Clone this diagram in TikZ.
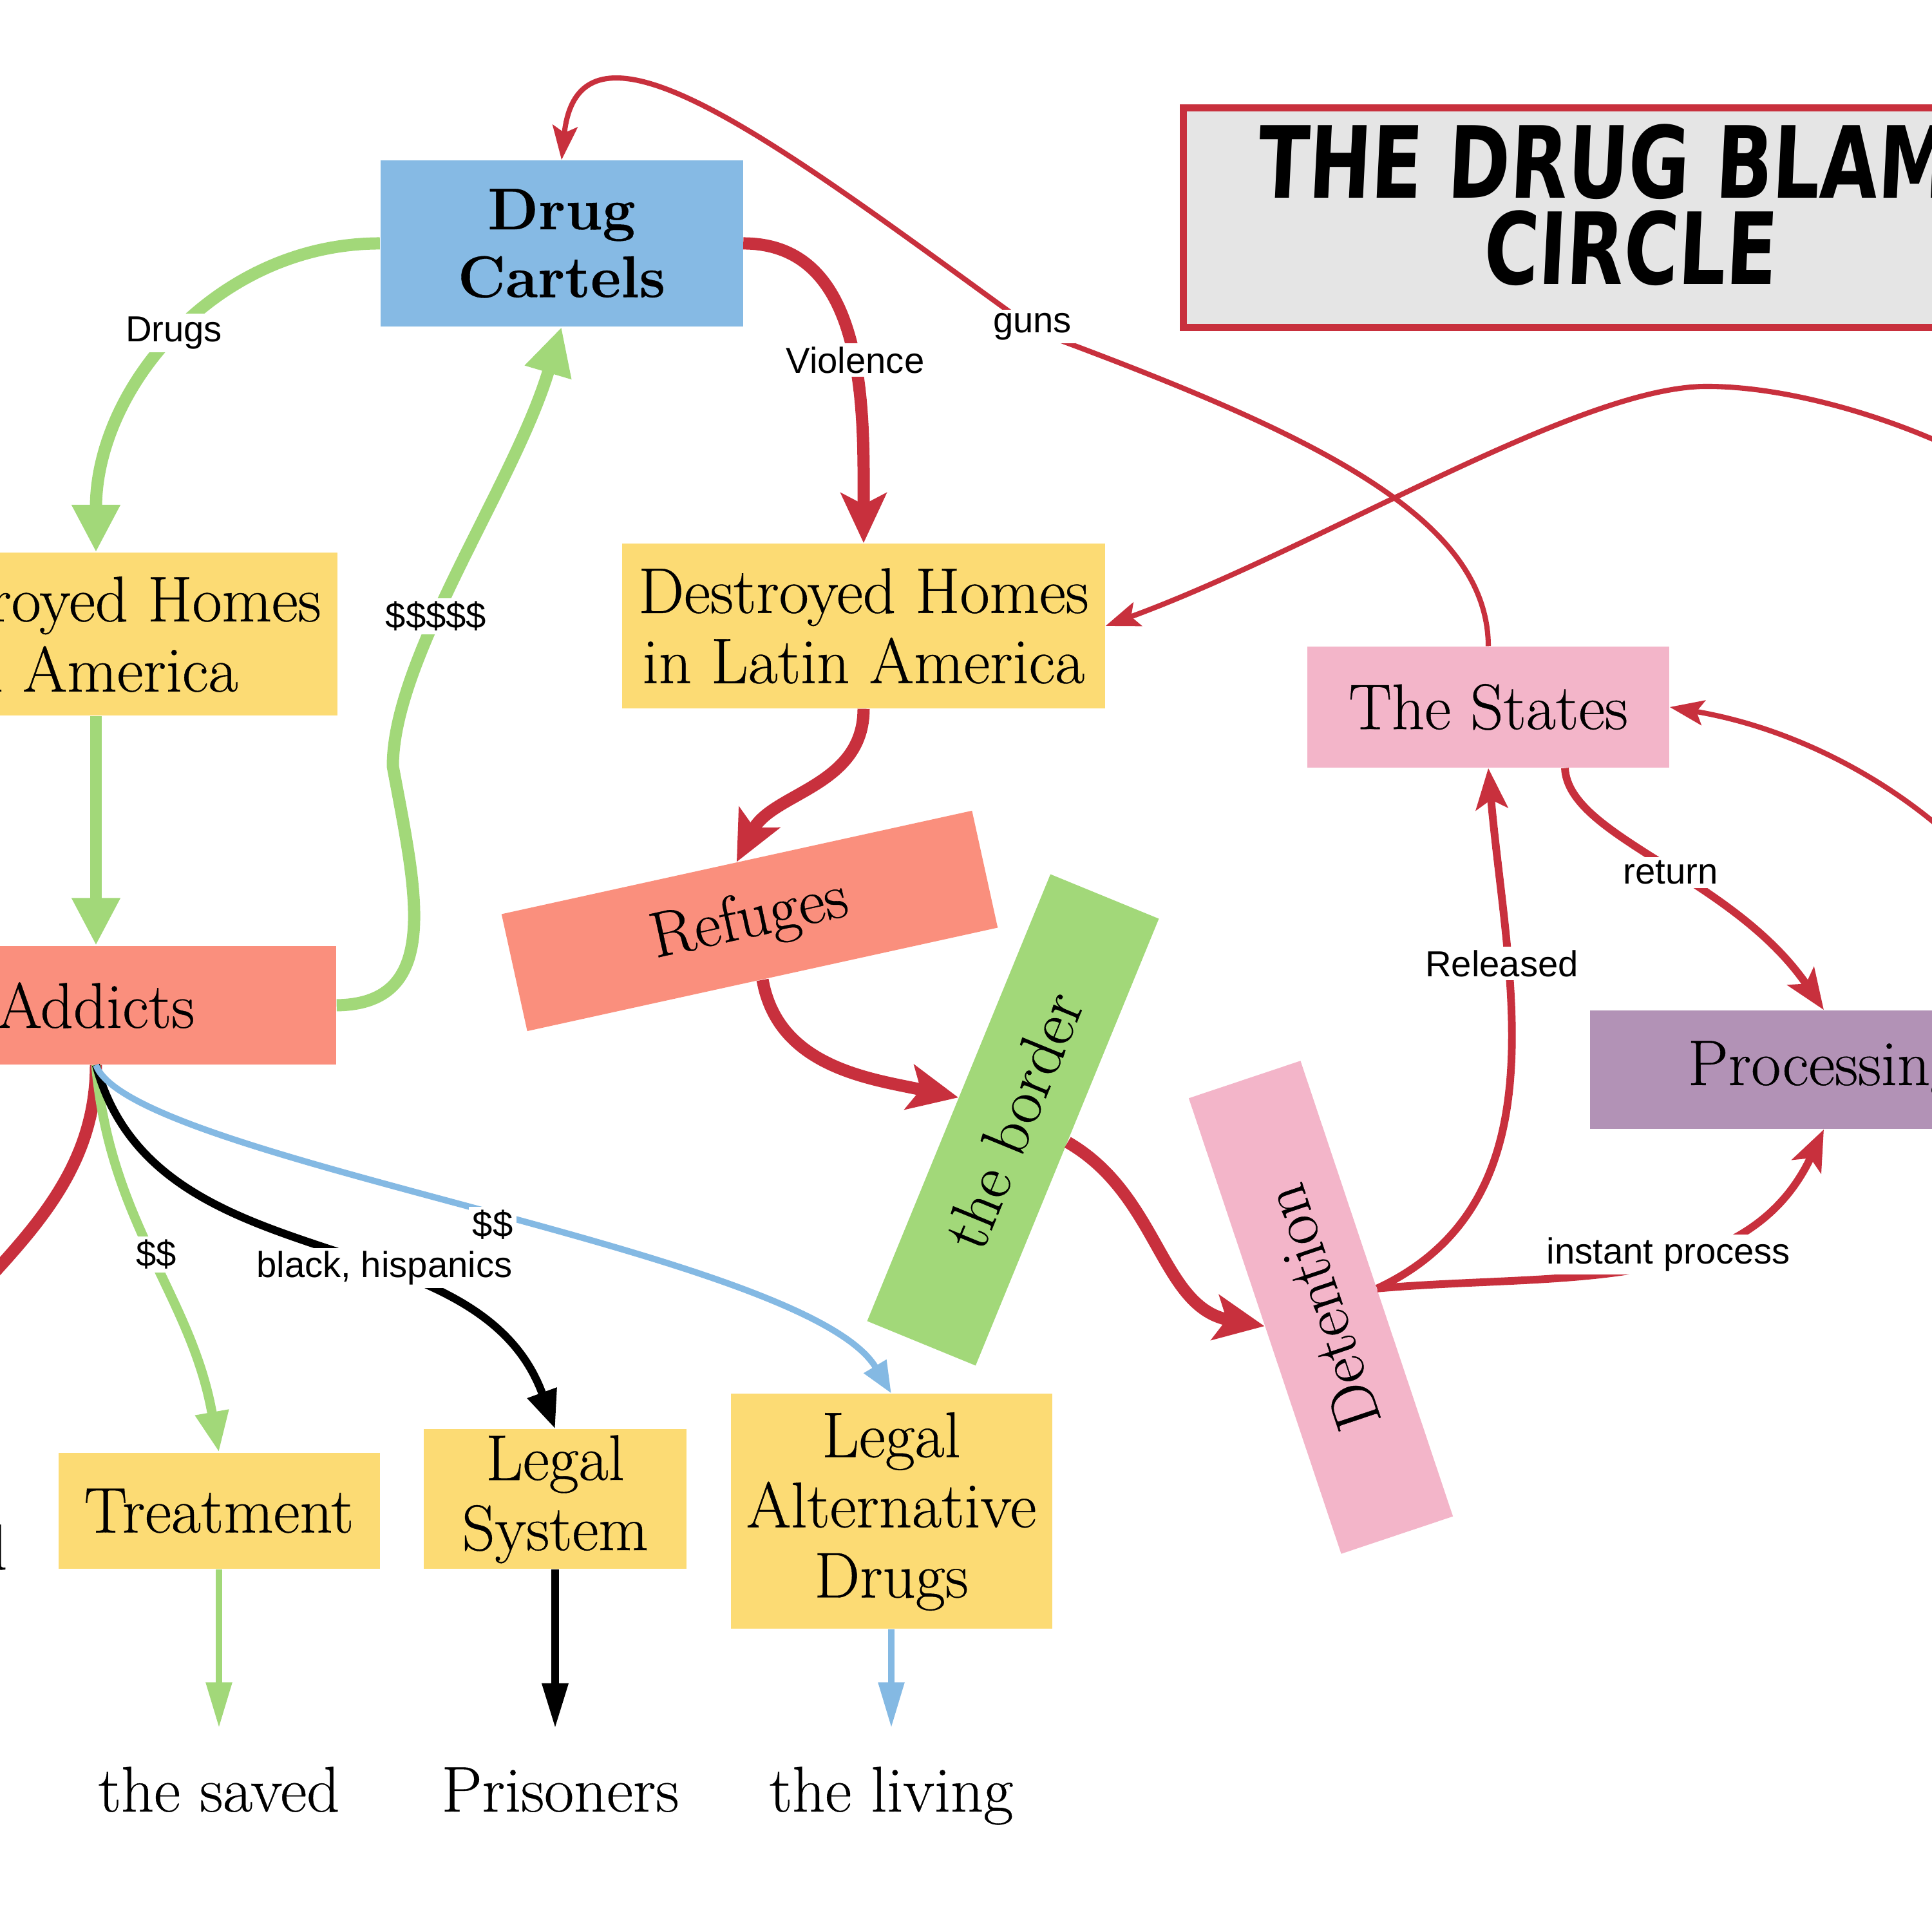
\documentclass[tikz,border=0pt]{standalone}
\usepackage{fontspec}
\setmainfont{Latin Modern Roman}[FakeBold=0.4]
\newfontfamily\lblfamily{Liberation Sans}
\newfontfamily\titlefamily{DejaVu Sans}[FakeStretch=0.75,FakeSlant=0.05]
\newcommand\boxfont{\fontsize{28.5}{31}\selectfont}
\newcommand\lblfont{\lblfamily\fontsize{16}{18}\selectfont}
\definecolor{DBred}{HTML}{C8303D}
\definecolor{DBgreen}{HTML}{A2D879}
\definecolor{DBblue}{HTML}{84B9E3}
\definecolor{DByellow}{HTML}{FCDB74}
\definecolor{DBsalmon}{HTML}{FA8F7D}
\definecolor{DBpink}{HTML}{F3B5C9}
\definecolor{DBpurple}{HTML}{B292B6}
\definecolor{DBcartel}{HTML}{86BAE4}
\definecolor{DBgray}{HTML}{E5E5E5}
\usetikzlibrary{arrows.meta, positioning}
\tikzset{
  box/.style={inner sep=0pt, align=center, font=\boxfont},
  outcome/.style={inner xsep=0pt, inner ysep=0.6cm, font=\boxfont},
  lbl/.style={font=\lblfont, fill=white, inner sep=1.5pt},
  bigG/.style={DBgreen, line width=5.4pt, -{Triangle[length=21pt,width=20pt]}},
  bigR/.style={DBred, line width=5.4pt, -{Stealth[length=22pt,width=20pt,inset=5pt]}},
  midR/.style={DBred, line width=3.4pt, -{Stealth[length=18pt,width=14pt,inset=4pt]}},
  thinR/.style={DBred, line width=2.3pt, -{Stealth[length=15pt,width=11pt,inset=3pt]}},
  midG/.style={DBgreen, line width=4.2pt, -{Triangle[length=18pt,width=14pt]}},
  midK/.style={black, line width=3.5pt, -{Triangle[length=17pt,width=13pt]}},
  thinB/.style={DBblue, line width=2.8pt, -{Triangle[length=14pt,width=11pt]}},
  downG/.style={DBgreen, line width=2.7pt, -{Triangle[length=20pt,width=11pt]}},
  downK/.style={black, line width=3.2pt, -{Triangle[length=20pt,width=11pt]}},
  downB/.style={DBblue, line width=2.7pt, -{Triangle[length=20pt,width=11pt]}}
}

\begin{document}
\begin{tikzpicture}
            \useasboundingbox (0,0) rectangle (30,30);
            \clip (0,0) rectangle (30,30);
            % Title
            \node[draw=DBred, line width=3.1pt, fill=DBgray, minimum width=13.85cm, minimum height=3.41cm]
               (title) at (25.30,26.62) {};
            \node[align=center, font=\titlefamily\bfseries\fontsize{44}{38}\selectfont] (titletext)
               at ([yshift=0.2cm]title.center) {THE DRUG BLAME\\CIRCLE};
            % Boxes
            \node[box, fill=DBcartel, minimum width=5.63cm, minimum height=2.58cm, font=\fontsize{26}{30}\selectfont\bfseries]
               (cartels) at (8.72,26.22) {Drug\\Cartels};
            \node[box, fill=DByellow, minimum width=7.5cm, minimum height=2.53cm] (homesL) at (1.49,20.15)
               {Destroyed Homes\\in America};
            \node[box, fill=DByellow, minimum width=7.5cm, minimum height=2.56cm] (homesR) at (13.41,20.28)
               {Destroyed Homes\\in Latin America};
            \node[box, fill=DBsalmon, minimum width=7.46cm, minimum height=1.84cm] (addicts) at (1.49,14.39) {Addicts};
            \node[box, fill=DBpink, minimum width=5.62cm, minimum height=1.88cm] (states) at (23.11,19.02) {The States};
            \node[box, fill=DBpurple, minimum width=7.27cm, minimum height=1.84cm] (processing) at (28.32,13.39) {Processing};
            \node[box, fill=DBsalmon, minimum width=7.48cm, minimum height=1.86cm, rotate=12.4] (refuges) at (11.64,15.70) {Refuges};
            \node[box, fill=DBgreen, minimum width=7.5cm, minimum height=1.82cm, rotate=67.7] (border) at (15.73,12.61) {the border};
            \node[box, fill=DBpink, minimum width=7.46cm, minimum height=1.83cm, rotate=108.5] (detention) at (20.51,9.70) {Detention};
            \node[box, fill=DByellow, minimum width=4.99cm, minimum height=1.80cm] (treatment) at (3.40,6.54) {Treatment};
            \node[box, fill=DByellow, minimum width=4.08cm, minimum height=2.17cm] (legalsys) at (8.62,6.72) {Legal\\System};
            \node[box, fill=DByellow, minimum width=4.99cm, minimum height=3.65cm] (altdrugs) at (13.84,6.53)
               {Legal\\Alternative\\Drugs};
            % Outcomes
            \node[outcome, anchor=base east] (dead) at (0.12,5.63) {the dead};
            \node[outcome, anchor=base] (saved) at (3.40,1.87) {the saved};
            \node[outcome, anchor=base] (prisoners) at (8.70,1.87) {Prisoners};
            \node[outcome, anchor=base] (living) at (13.84,1.87) {the living};
            % Green money and drug flows
            \draw[bigG] (cartels.west) to[out=180,in=90] (homesL.north);
            \draw[bigG] (homesL.south) -- (addicts.north);
            \draw[bigG] (addicts.east) .. controls (6.9,14.41) and (6.45,16.2) .. (6.1,18.1)
               .. controls (6.1,19.8) and (8.0,22.5) .. (cartels.south);
            % Refugee chain
            \draw[bigR] (cartels.east) to[out=0,in=90] (homesR.north);
            \draw[bigR] (homesR.south) to[out=-90,in=63] (refuges.north);
            \draw[bigR] (refuges.south) to[out=-80,in=168] (border.north);
            \draw[bigR] (border.south) to[out=-30,in=170] (detention.north);
            \draw[midR] (detention.south) to[out=25,in=-85] (states.south);
            \draw[midR] (detention.south) to[out=5,in=-115] (processing.south);
            \draw[midR] ([xshift=1.19cm]states.south) .. controls (24.35,17.0) and (26.9,16.4) .. (processing.north);
            \draw[thinR] (processing.north east) .. controls (31.6,16.4) and (29.0,18.5) .. (states.east);
            \coordinate (offR) at (32.5,21.5);
            \draw[thinR] (offR) .. controls (31.5,22.8) and (28.5,24.0) .. (26.5,24.0)
               .. controls (24.5,24.0) and (20.5,21.5) .. (homesR.east);
            \draw[thinR] (states.north) .. controls (23.1,22.0) and (20.3,23.3) .. (16.1,24.85)
               .. controls (12.3,27.6) and (9.0,30.2) .. (cartels.north);
            % Addicts outcomes
            \draw[bigR] (addicts.south) to[out=-90,in=90] (dead.north);
            \draw[midG] (addicts.south) to[out=-85,in=100] (treatment.north);
            \draw[midK] (addicts.south) to[out=-75,in=110] (legalsys.north);
            \draw[thinB] (addicts.south) .. controls (2.0,12.0) and (12.5,10.6) .. (altdrugs.north);
            \draw[downG] (treatment.south) -- (treatment.south |- saved.north);
            \draw[downK] (legalsys.south) -- (legalsys.south |- prisoners.north);
            \draw[downB] (altdrugs.south) -- (altdrugs.south |- living.north);
            % Labels
            \node[lbl] (lDrugs) at (2.70,24.83) {Drugs};
            \node[lbl] (lViol) at (13.28,24.41) {Violence};
            \node[lbl] (lGuns) at (16.03,24.93) {guns};
            \node[lbl] (lCash) at (6.77,20.43) {\$\$\$\$\$};
            \node[lbl] (lTreat) at (2.43,10.52) {\$\$};
            \node[lbl] (lBlack) at (5.97,10.31) {black, hispanics};
            \node[lbl] (lAlt) at (7.65,10.98) {\$\$};
            \node[lbl] (lReturn) at (25.94,16.45) {return};
            \node[lbl] (lRel) at (23.32,15.04) {Released};
            \node[lbl] (lInst) at (25.91,10.52) {instant process};
         \end{tikzpicture}
\end{document}
